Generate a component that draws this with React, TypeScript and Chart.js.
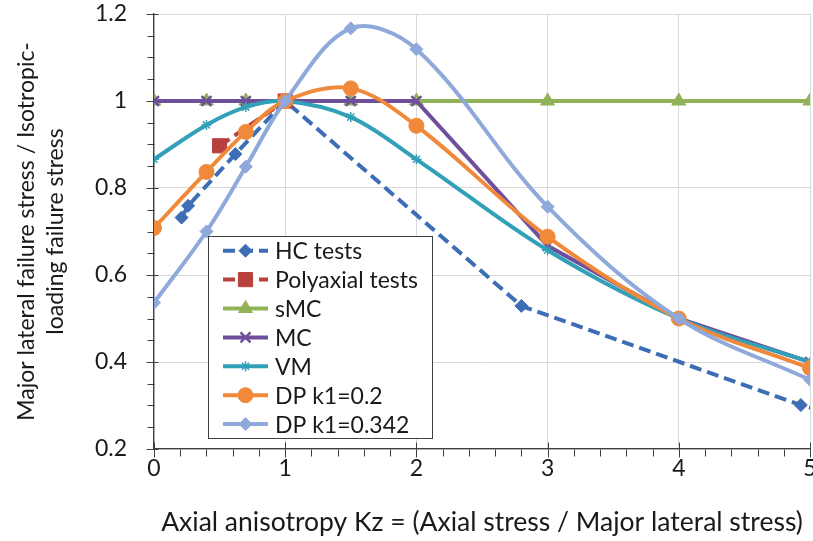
import React, { useEffect, useRef } from 'react';
import { Chart, registerables } from 'chart.js';
import { drawPoint } from 'chart.js/helpers';

Chart.register(...registerables);

// ---- data ----
const kzModel = [0, 0.4, 0.7, 1, 1.5, 2, 3, 4, 5];
const smcValues = [1, 1, 1, 1, 1, 1, 1, 1, 1];
const mcValues = [1, 1, 1, 1, 1, 1, 0.667, 0.5, 0.4];
const vmValues = [0.866, 0.945, 0.986, 1, 0.963, 0.866, 0.657, 0.5, 0.4];
const dp02Values = [0.708, 0.837, 0.929, 1, 1.029, 0.943, 0.688, 0.5, 0.386];
const dp0342Values = [0.536, 0.7, 0.849, 1, 1.167, 1.119, 0.757, 0.5, 0.359];

const kzHC = [0.21, 0.26, 0.62, 1, 2.8, 4.93, 6];
const hcValues = [0.732, 0.759, 0.878, 1, 0.529, 0.301, 0.217];

const kzPoly = [0.5, 1];
const polyValues = [0.897, 1];

const seriesLabels = ['HC tests', 'Polyaxial tests', 'sMC', 'MC', 'VM', 'DP k1=0.2', 'DP k1=0.342'];
const xTitle = 'Axial anisotropy Kz = (Axial stress / Major lateral stress)';
const yTitle = ['Major lateral failure stress / Isotropic-', 'loading failure stress'];

const FONT = 'Lato, "Open Sans", sans-serif';
const TEXT = '#1a1a1a';
const AXIS = '#404040';
const GRID = '#D9D9D9';

const pts = (xs: number[], ys: number[]) => xs.map((x, i) => ({ x, y: ys[i] }));

const ticksPlugin = {
  id: 'excelTicks',
  beforeDatasetsDraw(chart: any) {
    const { ctx, chartArea } = chart;
    const x = chart.scales.x;
    const y = chart.scales.y;
    ctx.save();
    ctx.strokeStyle = AXIS;
    ctx.lineWidth = 1;
    ctx.beginPath();
    const b = Math.round(chartArea.bottom) + 0.5;
    for (let i = 0; i <= 25; i++) {
      const px = Math.round(x.getPixelForValue(i * 0.2)) + 0.5;
      if (i % 5 === 0) {
        ctx.moveTo(px, b - 7);
        ctx.lineTo(px, b + 8);
      } else {
        ctx.moveTo(px, b);
        ctx.lineTo(px, b + 7);
      }
    }
    const l = Math.round(chartArea.left) + 0.5;
    for (let i = 0; i <= 20; i++) {
      const py = Math.round(y.getPixelForValue(0.2 + i * 0.05)) + 0.5;
      if (i % 4 === 0) {
        ctx.moveTo(l - 8, py);
        ctx.lineTo(l + 4, py);
      } else {
        ctx.moveTo(l - 7, py);
        ctx.lineTo(l, py);
      }
    }
    ctx.stroke();
    ctx.restore();
  },
};

const legendPlugin = {
  id: 'boxLegend',
  afterDraw(chart: any) {
    const { ctx, chartArea } = chart;
    const left = chartArea.left + 54;
    const top = 236;
    const w = 224;
    const h = 202;
    ctx.save();
    ctx.fillStyle = '#ffffff';
    ctx.fillRect(left, top, w, h);
    ctx.strokeStyle = AXIS;
    ctx.lineWidth = 1;
    ctx.strokeRect(Math.round(left) + 0.5, top + 0.5, w, h);
    chart.data.datasets.forEach((ds: any, i: number) => {
      const cy = top + 14.7 + i * 28.9;
      const x0 = left + 15;
      const x1 = left + 60;
      ctx.save();
      ctx.setLineDash(ds.borderDash || []);
      ctx.strokeStyle = ds.borderColor;
      ctx.lineWidth = ds.borderWidth;
      ctx.beginPath();
      ctx.moveTo(x0, cy);
      ctx.lineTo(x1, cy);
      ctx.stroke();
      ctx.setLineDash([]);
      ctx.fillStyle = ds.pointBackgroundColor;
      ctx.strokeStyle = ds.pointBorderColor;
      ctx.lineWidth = ds.pointBorderWidth;
      drawPoint(ctx, { pointStyle: ds.pointStyle, rotation: 0, radius: ds.pointRadius, borderWidth: ds.pointBorderWidth }, (x0 + x1) / 2, cy);
      ctx.restore();
      ctx.fillStyle = TEXT;
      ctx.font = `23px ${FONT}`;
      ctx.textBaseline = 'middle';
      ctx.textAlign = 'left';
      ctx.fillText(ds.label, left + 67, cy + 1);
    });
    ctx.restore();
  },
};

function mk(label: string, data: any[], color: string, style: string, radius: number, opts: any = {}) {
  return {
    label,
    data,
    borderColor: color,
    backgroundColor: color,
    pointBackgroundColor: color,
    pointBorderColor: color,
    pointBorderWidth: 1,
    pointStyle: style,
    pointRadius: radius,
    borderWidth: 4,
    tension: 0,
    ...opts,
  };
}

export default function App() {
  const ref = useRef<HTMLCanvasElement | null>(null);
  useEffect(() => {
    if (!ref.current) return;
    const datasets = [
      mk(seriesLabels[0], pts(kzHC, hcValues), '#3D6DB5', 'rectRot', 6.5, { borderDash: [12, 6], order: 6 }),
      mk(seriesLabels[1], pts(kzPoly, polyValues), '#B8403D', 'rect', 10, { borderDash: [12, 6], order: 5 }),
      mk(seriesLabels[2], pts(kzModel, smcValues), '#8FB356', 'triangle', 8, { order: 4 }),
      mk(seriesLabels[3], pts(kzModel, mcValues), '#6F4E9C', 'crossRot', 7, { pointBorderWidth: 2.5, order: 3 }),
      mk(seriesLabels[4], pts(kzModel, vmValues), '#31A0B8', 'star', 5, { pointBorderWidth: 1.5, tension: 0.35, order: 2 }),
      mk(seriesLabels[5], pts(kzModel, dp02Values), '#F0893A', 'circle', 7.5, { tension: 0.35, order: 1 }),
      mk(seriesLabels[6], pts(kzModel, dp0342Values), '#8EA9DA', 'rectRot', 6.5, { tension: 0.35, order: 0 }),
    ];
    const chart = new Chart(ref.current, {
      type: 'line',
      data: { datasets },
      options: {
        animation: false,
        responsive: false,
        maintainAspectRatio: false,
        layout: { padding: { top: 14, left: 0, right: 0, bottom: 0 } },
        plugins: { legend: { display: false }, tooltip: { enabled: false } },
        scales: {
          x: {
            type: 'linear',
            min: 0,
            max: 5,
            ticks: { stepSize: 1, color: TEXT, font: { family: FONT, size: 23 }, padding: 0, maxRotation: 0 },
            grid: { color: GRID, lineWidth: 1, drawTicks: true, tickLength: 6, tickColor: 'rgba(0,0,0,0)' },
            border: { color: AXIS, width: 1.3 },
            title: { display: true, text: xTitle, color: TEXT, font: { family: FONT, size: 26.5 }, padding: { top: 0, bottom: 3 } },
            afterFit: (s: any) => { s.height = 92; },
          },
          y: {
            type: 'linear',
            min: 0.2,
            max: 1.2,
            ticks: {
              stepSize: 0.2,
              color: TEXT,
              font: { family: FONT, size: 23 },
              padding: 0,
              callback: (v: any) => String(Math.round(Number(v) * 10) / 10),
            },
            grid: { color: GRID, lineWidth: 1, drawTicks: true, tickLength: 27, tickColor: 'rgba(0,0,0,0)' },
            border: { color: AXIS, width: 1.3 },
            title: { display: true, text: yTitle, color: TEXT, font: { family: FONT, size: 23, lineHeight: 1.22 }, padding: { top: 13, bottom: 0 } },
            afterFit: (s: any) => { s.width = 154; },
          },
        },
      },
      plugins: [ticksPlugin, legendPlugin],
    });
    return () => chart.destroy();
  }, []);
  return (
    <div style={{ position: 'fixed', left: 0, top: 0, width: 813, height: 541, overflow: 'hidden', background: '#fff' }}>
      <canvas ref={ref} width={821} height={541} style={{ display: 'block' }} />
    </div>
  );
}
